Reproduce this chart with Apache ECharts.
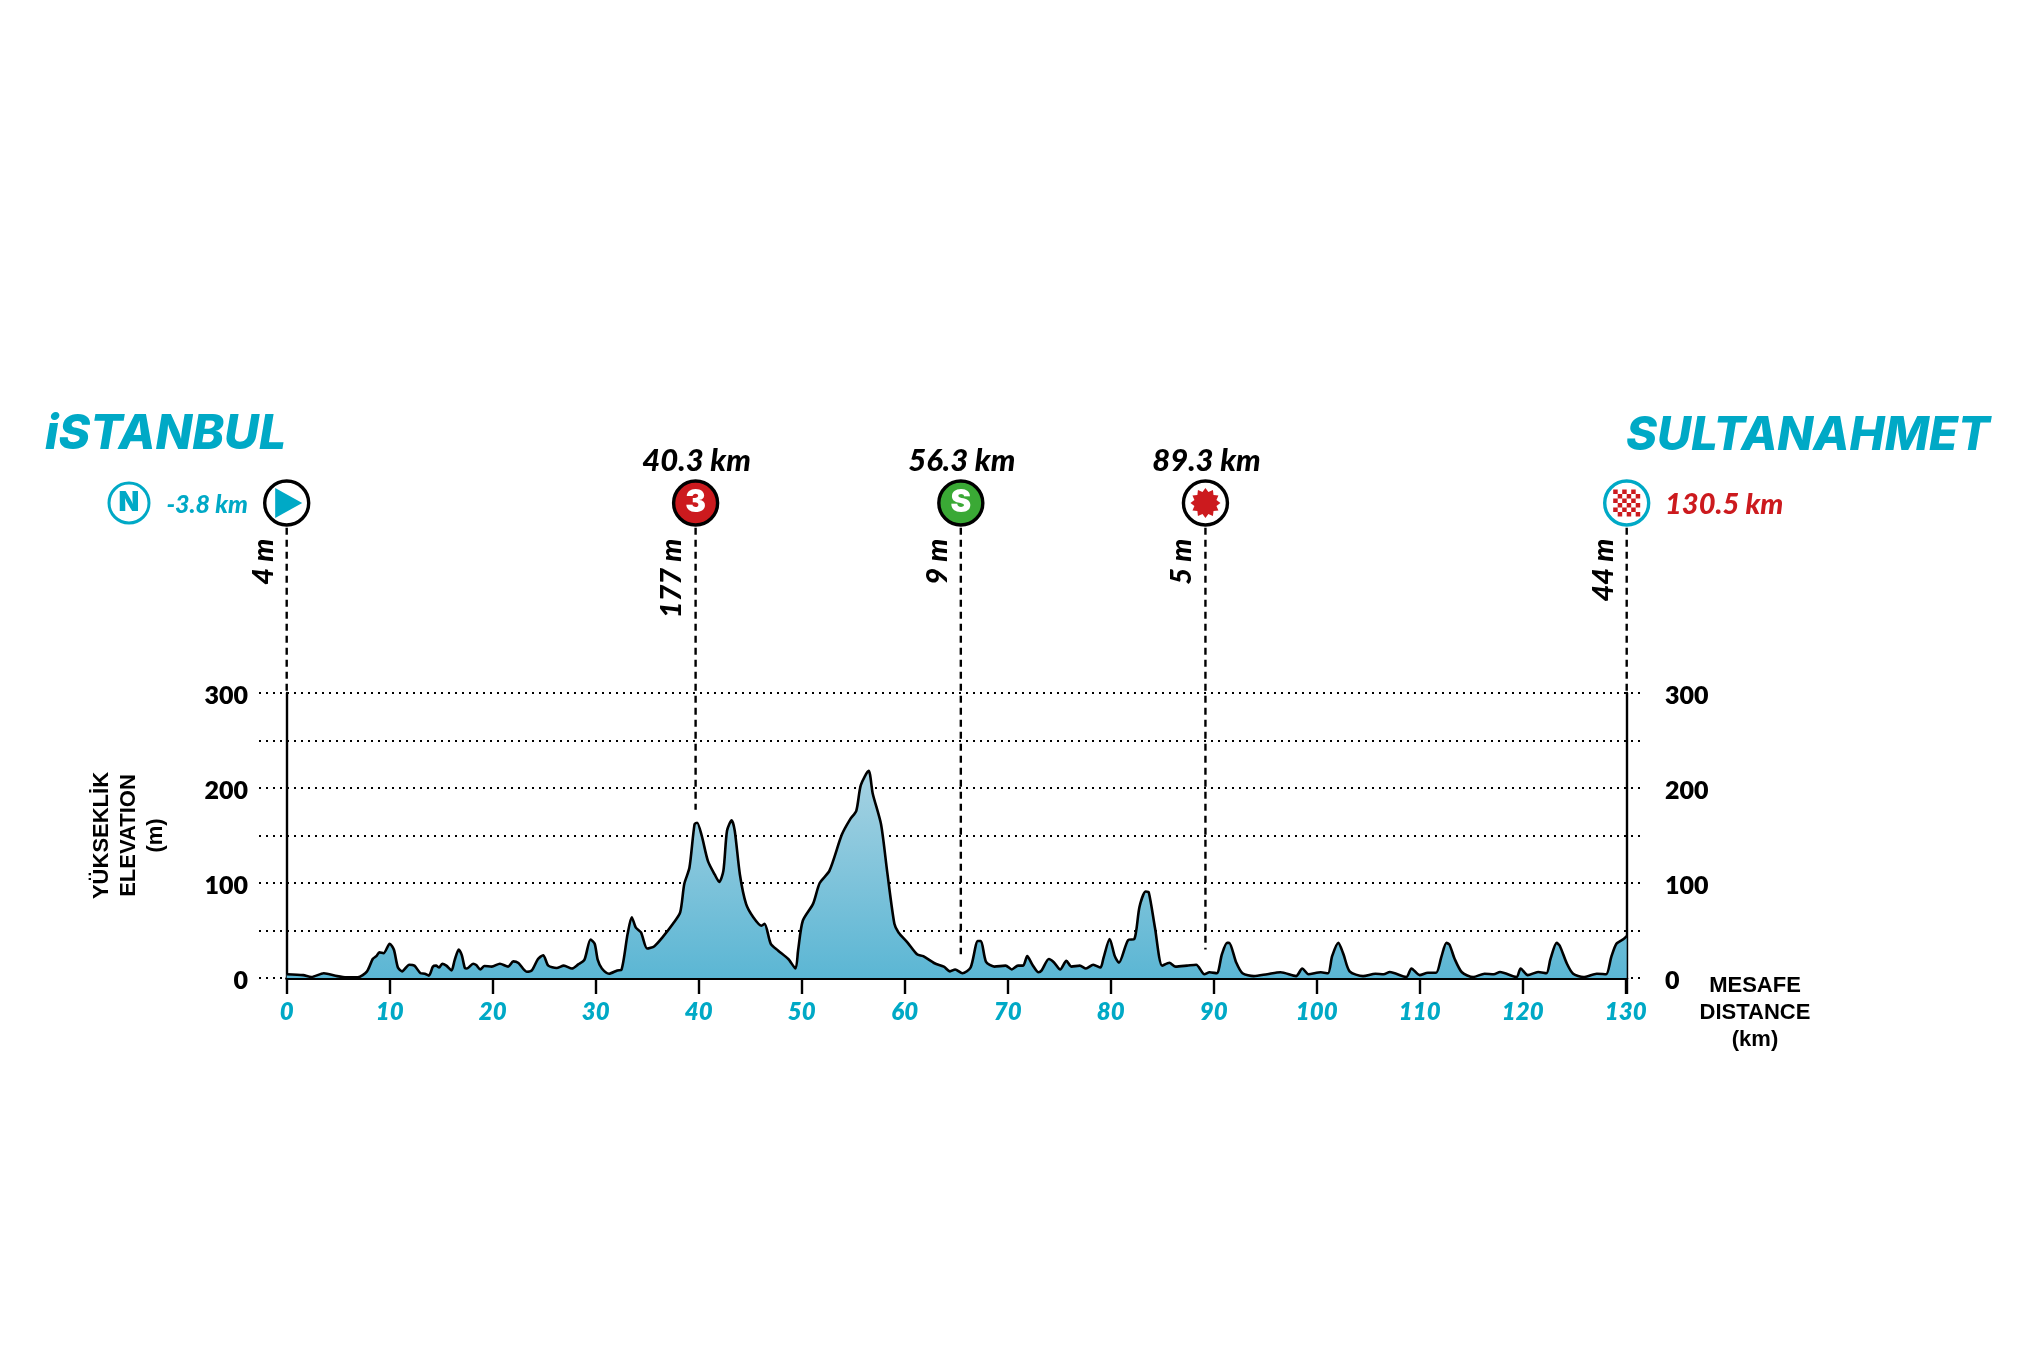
<!DOCTYPE html>
<html><head><meta charset="utf-8">
<style>html,body{margin:0;padding:0;background:#fff}#c{width:2031px;height:1348px}</style>
<script src="https://cdn.jsdelivr.net/npm/echarts@6/dist/echarts.min.js"></script>
</head><body><div id="c"></div>
<script>
const profileKm=[0,1.6,2.4,3.6,4.9,5.8,6.9,7.8,8.35,8.7,9,9.4,10,10.4,10.8,11.2,11.9,12.4,13,13.4,13.8,14.2,14.5,14.8,15.1,15.5,16,16.3,16.7,17,17.3,17.5,18.1,18.4,18.8,19.2,19.9,20.7,21.5,22,22.5,23.3,23.8,24.4,24.9,25.4,26.2,26.9,27.7,28.3,28.9,29.5,29.9,30.2,30.6,31.3,32.1,32.5,33.1,33.5,33.9,34.4,35,35.7,36.5,37.5,38.2,38.6,39.1,39.6,39.85,40.3,40.9,41.55,42,42.4,42.75,43.2,43.5,44,44.6,45.3,46.1,46.4,47,47.7,48.7,49.4,49.65,50.1,51.1,51.75,52.7,53.9,54.7,55.3,55.74,56.5,56.9,57.7,58.3,59,59.4,60.3,61.2,61.8,62.9,63.8,64.4,64.9,65.6,66.4,67.1,67.4,67.9,68.7,69.8,70.4,71,71.5,71.9,72.4,73,73.3,74,74.5,75.1,75.7,76.2,77,77.6,78.3,79,79.3,79.9,80.4,80.8,81.7,82.3,82.8,83.4,83.7,84.3,85,85.7,86.3,87.4,88.3,89.1,89.6,90.3,90.8,91.3,91.5,92.2,92.8,93.9,95.2,96.5,98,98.6,99.2,100.4,101.1,101.5,102.1,102.6,103.2,104.5,105.7,106.5,107.1,108.7,109.2,110,110.8,111.6,112.1,112.6,112.9,113.4,114.1,115.2,116.3,117.2,117.8,119.4,119.8,120.5,121.5,122.3,122.7,123.3,123.6,124.3,124.9,125.9,127.2,128.1,128.6,129.1,129.8,130.1];
const profileEle=[4,3,1,5,2,0.7,0.7,7,20,23,27,26,36,30,11,7,14,13,5,4.5,2.5,12,13,11,15,13,8,18.5,30,24,10.5,10,15,13.6,9,12.6,12,15,12,17.5,15.7,6.6,8,20,24,13,10.5,13,10,14.3,19,40.5,36,19,10,4.5,8,8.7,46.5,64,53,48,31,33.5,43,57,69,99,116,162,163.5,149.5,123,109,101,113,155,166,155,109,78,64,55,57,36,29,20,10,29,60,78,100,113,151,167,176,203,218,194,162,112,57,48,37,25,23,15.5,12,7,9,5,11,39,39,17,12,13,9,13,13,23,14,6,8,20,16.4,9,18,12,13,10,14,11,21,41,23,16,40,41,75,91,90,53,13,16,12,13,14,4,6,5,25,37,37,16,5,2,4,6,2,10,4,6,5,23,37,25,7,2,4.5,4,6.3,1,10,3,5.6,5.6,22,37,35,20,6,1,4.5,4,6.3,1,10,3,6.3,5,20,37,34,15,4.5,1,4.5,4,22,36,41,44];

const xTicks=10, yLabelStep=100, yGridStep=50;
const markerKm=[0,39.7,65.45,89.2,130.1];
const markerBottomEle=[300,177,25,30,300];
const markerKmLabels=['','40.3 km','56.3 km','89.3 km',''];
const markerEleLabels=['4 m','177 m','9 m','5 m','44 m'];
const MARK_ELE=500, LINE_TOP_ELE=474, LABEL_TOP_ELE=462, KM_LABEL_ELE=500;
const titles=['iSTANBUL','SULTANAHMET'];
const startText='-3.8 km', finishText='130.5 km';

const TEAL='#00a9c6', RED='#cc1a1e', GREEN='#3aa935', INK='#000';
const NUM='Lato, "Open Sans", sans-serif';
const CLEAR='rgba(0,0,0,0)';

function starPath(n,R,r){let d='';for(let i=0;i<2*n;i++){const a=Math.PI*i/n,q=i%2?r:R;d+=(i?'L':'M')+(50+q*Math.sin(a)).toFixed(1)+' '+(50-q*Math.cos(a)).toFixed(1);}return 'path://'+d+'Z';}
function checkerPath(){let d='';for(let r=0;r<6;r++)for(let c=0;c<6;c++)if((r+c)%2===0){d+=`M${c} ${r}h1v1h-1Z`;}return 'path://'+d;}

const ringStyles=[
 {color:'#fff',borderColor:INK},{color:RED,borderColor:INK},{color:GREEN,borderColor:INK},{color:'#fff',borderColor:INK},{color:'#fff',borderColor:TEAL}];
const ringData=markerKm.map((k,i)=>({value:[k,MARK_ELE],itemStyle:ringStyles[i]}));
const glyphs=[
 {value:[markerKm[0],MARK_ELE],symbol:'path://M0 0L10 5.5L0 11Z',symbolSize:[27,30],symbolOffset:[2,0],itemStyle:{color:TEAL,opacity:1}},
 {value:[markerKm[3],MARK_ELE],symbol:starPath(12,50,38),symbolSize:30,itemStyle:{color:RED,opacity:1}},
 {value:[markerKm[4],MARK_ELE],symbol:checkerPath(),symbolSize:27,itemStyle:{color:RED,opacity:1}}
];

const lineSeries=markerKm.map((k,i)=>({type:'line',xAxisIndex:1,yAxisIndex:1,clip:false,silent:true,symbol:'none',z:3,
  data:[[k,LINE_TOP_ELE],[k,markerBottomEle[i]]],lineStyle:{color:INK,width:2.4,type:[7,5]}}));

const option={
 animation:false,backgroundColor:'#fff',
 grid:[{left:259,width:1381,top:693,height:285},{left:286.7,width:1340,top:693,height:285}],
 xAxis:[
  {gridIndex:0,type:'value',min:-2,max:132,show:false},
  {gridIndex:1,type:'value',min:0,max:130.1,interval:xTicks,
   axisLine:{lineStyle:{color:INK,width:3}},
   axisTick:{length:16,lineStyle:{color:INK,width:2.4}},
   splitLine:{show:false},
   axisLabel:{margin:22,color:TEAL,fontFamily:NUM,fontStyle:'italic',fontWeight:800,fontSize:24,
     formatter:v=>v%10===0?String(v):''}}
 ],
 yAxis:[
  {gridIndex:0,type:'value',min:0,max:300,interval:yGridStep,
   axisLine:{show:false},axisTick:{show:false},
   splitLine:{show:true,lineStyle:{color:INK,width:2,type:[2,5]}},
   axisLabel:{margin:11,color:INK,fontFamily:NUM,fontWeight:800,fontSize:25,align:'right',verticalAlign:'top',lineHeight:5,
     formatter:v=>v%yLabelStep===0?String(v):''},
   name:'YÜKSEKLİK\nELEVATION\n(m)',nameLocation:'middle',nameRotate:90,nameGap:90,
   nameTextStyle:{fontFamily:'"Liberation Sans",Arial,sans-serif',fontWeight:700,fontSize:22,lineHeight:27,color:INK,align:'center'}},
  {gridIndex:1,type:'value',min:0,max:300,interval:yGridStep,position:'left',
   axisLine:{show:true,onZero:false,lineStyle:{color:INK,width:2.4}},axisTick:{show:false},axisLabel:{show:false},splitLine:{show:false}},
  {gridIndex:1,type:'value',min:0,max:300,interval:yGridStep,position:'right',
   axisLine:{show:true,onZero:false,lineStyle:{color:INK,width:2.4}},axisTick:{show:false},axisLabel:{show:false},splitLine:{show:false}},
  {gridIndex:0,type:'value',min:0,max:300,interval:yGridStep,position:'right',
   axisLine:{show:false},axisTick:{show:false},splitLine:{show:false},
   axisLabel:{margin:25,color:INK,fontFamily:NUM,fontWeight:800,fontSize:25,align:'left',verticalAlign:'top',lineHeight:5,
     formatter:v=>v%yLabelStep===0?String(v):''}}
 ],
 series:[
  {type:'line',name:'profile',xAxisIndex:1,yAxisIndex:1,symbol:'none',smooth:0.25,z:4,
   data:profileKm.map((k,i)=>[k,profileEle[i]]),
   lineStyle:{color:INK,width:2.6},
   areaStyle:{opacity:1,color:{type:'linear',x:0,y:0,x2:0,y2:1,colorStops:[{offset:0,color:'#a6d2e2'},{offset:1,color:'#5bb6d4'}]}}},
  ...lineSeries,
  {type:'scatter',xAxisIndex:1,yAxisIndex:1,clip:false,symbol:'circle',symbolSize:44,z:6,silent:true,
   data:ringData.map(d=>({value:d.value,itemStyle:{...d.itemStyle,opacity:1,borderWidth:3.4}}))},
  {type:'scatter',xAxisIndex:1,yAxisIndex:1,clip:false,z:7,silent:true,data:glyphs},
  {type:'scatter',xAxisIndex:1,yAxisIndex:1,clip:false,symbolSize:1,itemStyle:{color:CLEAR,opacity:1},z:8,silent:true,
   data:[{value:[markerKm[1],MARK_ELE],txt:'3'},{value:[markerKm[2],MARK_ELE],txt:'S'}],
   label:{show:true,position:'inside',formatter:p=>p.data.txt,color:'#fff',fontFamily:'Inter,sans-serif',fontWeight:900,fontSize:31}},
  {type:'scatter',xAxisIndex:1,yAxisIndex:1,clip:false,symbolSize:1,itemStyle:{color:CLEAR,opacity:1},z:8,silent:true,
   data:markerKm.map((k,i)=>({value:[k,KM_LABEL_ELE],txt:markerKmLabels[i]})),
   label:{show:true,position:'inside',offset:[1,-42],formatter:p=>p.data.txt,color:INK,fontFamily:NUM,fontStyle:'italic',fontWeight:900,fontSize:31}},
  {type:'scatter',xAxisIndex:1,yAxisIndex:1,clip:false,symbolSize:1,itemStyle:{color:CLEAR,opacity:1},z:8,silent:true,
   data:markerKm.map((k,i)=>({value:[k,LABEL_TOP_ELE],txt:markerEleLabels[i]})),
   label:{show:true,position:[-23,0],rotate:90,align:'right',verticalAlign:'middle',formatter:p=>p.data.txt,color:INK,fontFamily:NUM,fontStyle:'italic',fontWeight:900,fontSize:29}}
 ],
 graphic:[
  {type:'text',left:45,top:411,style:{text:titles[0],fill:TEAL,font:'italic 800 48px Inter, sans-serif'}},
  {type:'text',left:1626,top:412,style:{text:titles[1],fill:TEAL,font:'italic 800 47px Inter, sans-serif'}},
  {type:'circle',shape:{cx:129,cy:503,r:20},style:{fill:'#fff',stroke:TEAL,lineWidth:3}},
  {type:'text',x:129,y:503,style:{text:'N',fill:TEAL,font:'900 27px Inter, sans-serif',align:'center',verticalAlign:'middle'}},
  {type:'text',x:248,y:505,style:{text:startText,fill:TEAL,font:'italic 900 25px Lato, sans-serif',align:'right',verticalAlign:'middle'}},
  {type:'text',x:1665,y:505,style:{text:finishText,fill:RED,font:'italic 900 29px Lato, sans-serif',align:'left',verticalAlign:'middle'}},
  {type:'text',x:1755,y:1013,style:{text:'MESAFE\nDISTANCE\n(km)',fill:INK,font:'700 22px "Liberation Sans", Arial, sans-serif',lineHeight:27,align:'center',verticalAlign:'middle'}}
 ]
};
const chart=echarts.init(document.getElementById('c'),null,{renderer:'canvas'});
chart.setOption(option);
</script></body></html>
